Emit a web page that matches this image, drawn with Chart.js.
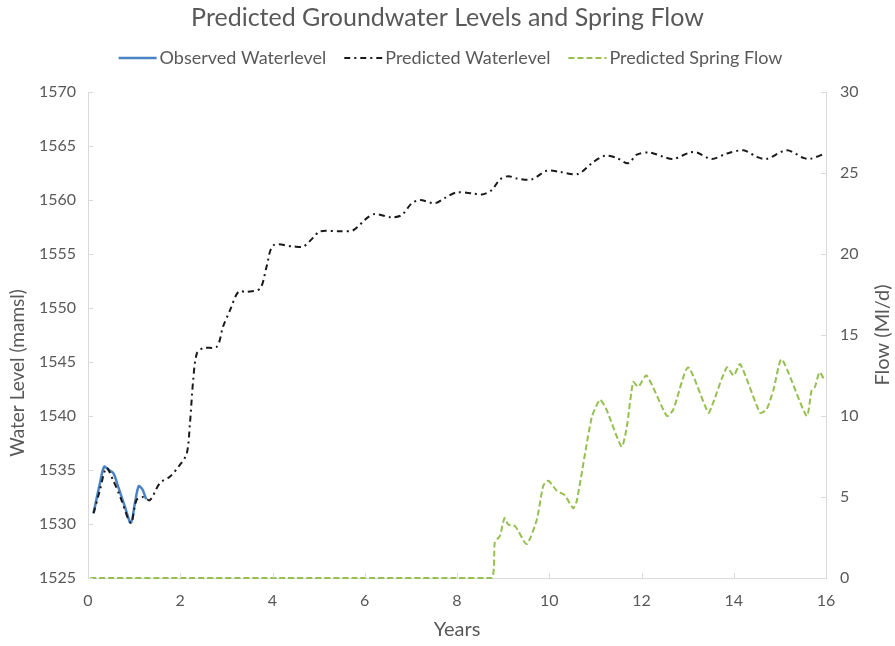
<!DOCTYPE html>
<html>
<head>
<meta charset="utf-8">
<script src="https://cdn.jsdelivr.net/npm/chart.js@4"></script>
<style>
  html, body { margin: 0; padding: 0; background: #fff; }
  #wrap { width: 895px; height: 646px; }
</style>
</head>
<body>
<div id="wrap"><canvas id="gwChart"></canvas></div>
<script>
// Observed waterlevel (years, mamsl)
const obsYears = [0.12, 0.25, 0.35, 0.45, 0.55, 0.65, 0.8, 0.93, 1.02, 1.1, 1.18, 1.26];
const obsLevel = [1531.0, 1533.6, 1535.3, 1535.0, 1534.7, 1533.5, 1531.6, 1530.1, 1532.0, 1533.5, 1533.2, 1532.3];

// Predicted waterlevel (years, mamsl)
const predYears = [0.12, 0.25, 0.4, 0.55, 0.7, 0.93, 1.05, 1.2, 1.34, 1.56, 1.78, 1.98, 2.14, 2.21, 2.28, 2.36, 2.5,
  2.79, 2.93, 3.08, 3.26, 3.44, 3.73, 3.87, 4.02, 4.45, 4.67, 4.88, 5.03, 5.46, 5.75, 6.04, 6.22, 6.58, 6.8, 7.02,
  7.2, 7.52, 7.74, 7.99, 8.35, 8.53, 8.75, 8.93, 9.11, 9.29, 9.62, 9.94, 10.23, 10.62, 10.95, 11.21, 11.46, 11.71,
  11.9, 12.18, 12.47, 12.69, 13.05, 13.2, 13.52, 13.85, 14.21, 14.5, 14.71, 15.15, 15.51, 15.65, 15.98];
const predLevel = [1531.0, 1533.0, 1535.2, 1534.0, 1532.5, 1530.1, 1532.2, 1532.5, 1532.2, 1533.8, 1534.4, 1535.4, 1536.5, 1539.3, 1543.3, 1545.8, 1546.3,
  1546.4, 1548.3, 1549.8, 1551.5, 1551.5, 1551.8, 1553.8, 1555.8, 1555.7, 1555.7, 1556.5, 1557.1, 1557.1, 1557.2, 1558.3, 1558.7, 1558.4, 1558.6, 1559.7,
  1560.0, 1559.7, 1560.2, 1560.7, 1560.6, 1560.5, 1560.9, 1561.9, 1562.2, 1562.0, 1561.9, 1562.7, 1562.6, 1562.4, 1563.5, 1564.1, 1563.9, 1563.4,
  1564.2, 1564.4, 1564.0, 1563.8, 1564.4, 1564.4, 1563.8, 1564.3, 1564.6, 1564.0, 1563.8, 1564.6, 1563.9, 1563.8, 1564.3];

// Predicted spring flow (years, Ml/d)
const flowYears = [0.05, 2, 4, 6, 8, 8.75, 8.82, 8.93, 9.03, 9.11, 9.26, 9.51, 9.73, 9.87, 9.98, 10.16, 10.34, 10.52, 10.6,
  10.92, 11.1, 11.24, 11.57, 11.68, 11.82, 11.93, 12.11, 12.55, 12.69, 13.01, 13.45, 13.55, 13.85, 14.0, 14.14, 14.57,
  14.71, 14.86, 15.04, 15.58, 15.69, 15.76, 15.86, 15.97];
const flowValues = [0, 0, 0, 0, 0, 0, 2.2, 2.6, 3.7, 3.3, 3.2, 2.1, 3.6, 5.7, 6.0, 5.4, 5.1, 4.3, 4.8,
  9.9, 11.0, 10.4, 8.1, 9.3, 12.1, 11.8, 12.5, 10.0, 10.4, 13.0, 10.2, 10.8, 13.0, 12.5, 13.2, 10.2,
  10.4, 11.6, 13.5, 10.0, 11.6, 11.8, 12.7, 12.2];

const xTicks = [0, 2, 4, 6, 8, 10, 12, 14, 16];

const toXY = (xs, ys) => xs.map((x, i) => ({ x: x, y: ys[i] }));

const grey = '#595959';
const axisLine = '#d9d9d9';
const fontFamily = 'Lato, sans-serif';

// extra room under the legend
const legendSpace = {
  id: 'legendSpace',
  beforeLayout(chart) {
    const lg = chart.legend;
    if (lg && !lg._padded) {
      const fit = lg.fit;
      lg.fit = function () { fit.call(this); this.height += 15; };
      lg._padded = true;
    }
  }
};

// small inward tick marks, legend line samples and the axis titles
const extras = {
  id: 'extras',
  afterDraw(chart) {
    const ctx = chart.ctx;
    const x = chart.scales.x, y = chart.scales.y, y1 = chart.scales.y1;
    const area = chart.chartArea;
    ctx.save();
    ctx.strokeStyle = axisLine;
    ctx.lineWidth = 1;
    ctx.beginPath();
    xTicks.forEach(v => {
      const px = Math.round(x.getPixelForValue(v)) + 0.5;
      ctx.moveTo(px, area.bottom);
      ctx.lineTo(px, area.bottom - 5);
    });
    y.ticks.forEach(t => {
      const py = Math.round(y.getPixelForValue(t.value)) + 0.5;
      ctx.moveTo(area.left, py);
      ctx.lineTo(area.left + 5, py);
    });
    y1.ticks.forEach(t => {
      const py = Math.round(y1.getPixelForValue(t.value)) + 0.5;
      ctx.moveTo(area.right, py);
      ctx.lineTo(area.right - 5, py);
    });
    ctx.stroke();

    // legend samples
    const boxes = chart.legend.legendHitBoxes || [];
    chart.legend.legendItems.forEach((item, i) => {
      const b = boxes[i];
      if (!b) return;
      const ds = chart.data.datasets[item.datasetIndex];
      const ly = b.top + b.height / 2;
      ctx.beginPath();
      ctx.strokeStyle = ds.borderColor;
      ctx.lineWidth = ds.borderWidth;
      ctx.setLineDash(ds.borderDash || []);
      ctx.moveTo(b.left + 6, ly);
      ctx.lineTo(b.left + 44, ly);
      ctx.stroke();
    });
    ctx.setLineDash([]);

    // axis titles, both reading bottom to top
    ctx.fillStyle = grey;
    ctx.textAlign = 'center';
    ctx.textBaseline = 'middle';
    ctx.font = '19px ' + fontFamily;
    ctx.save();
    ctx.translate(18, 373);
    ctx.rotate(-Math.PI / 2);
    ctx.fillText('Water Level (mamsl)', 0, 0);
    ctx.restore();
    ctx.font = '20px ' + fontFamily;
    ctx.translate(883, (area.top + area.bottom) / 2);
    ctx.rotate(-Math.PI / 2);
    ctx.fillText('Flow (Ml/d)', 0, 0);
    ctx.restore();
  }
};

const ctx = document.getElementById('gwChart').getContext('2d');
new Chart(ctx, {
  type: 'line',
  data: {
    datasets: [
      {
        label: 'Observed Waterlevel',
        data: toXY(obsYears, obsLevel),
        borderColor: '#4a84c4',
        backgroundColor: '#4a84c4',
        borderWidth: 2.5,
        pointRadius: 0,
        tension: 0.3,
        order: 2,
        yAxisID: 'y'
      },
      {
        label: 'Predicted Waterlevel',
        data: toXY(predYears, predLevel),
        borderColor: '#1a1a1a',
        backgroundColor: '#1a1a1a',
        borderWidth: 2,
        borderDash: [6, 4, 2, 4],
        pointRadius: 0,
        tension: 0.3,
        order: 1,
        yAxisID: 'y'
      },
      {
        label: 'Predicted Spring Flow',
        data: toXY(flowYears, flowValues),
        borderColor: '#95bf4f',
        backgroundColor: '#95bf4f',
        borderWidth: 2,
        borderDash: [6, 3],
        pointRadius: 0,
        tension: 0.2,
        clip: false,
        order: 3,
        yAxisID: 'y1'
      }
    ]
  },
  options: {
    responsive: true,
    maintainAspectRatio: false,
    animation: false,
    layout: { padding: 0 },
    plugins: {
      title: {
        display: true,
        text: 'Predicted Groundwater Levels and Spring Flow',
        color: grey,
        font: { family: fontFamily, size: 25, weight: 'normal' },
        padding: { top: 3, bottom: 4 }
      },
      legend: {
        display: true,
        labels: {
          color: grey,
          font: { family: fontFamily, size: 18 },
          boxWidth: 38,
          boxHeight: 10,
          padding: 12,
          sort: (a, b) => a.datasetIndex - b.datasetIndex,
          generateLabels: chart => Chart.defaults.plugins.legend.labels.generateLabels(chart).map(l => {
            l.fillStyle = 'rgba(0,0,0,0)';
            l.strokeStyle = 'rgba(0,0,0,0)';
            l.lineWidth = 0;
            return l;
          })
        }
      },
      tooltip: { enabled: false }
    },
    scales: {
      x: {
        type: 'linear',
        min: 0,
        max: 16,
        afterBuildTicks: s => { s.ticks = xTicks.map(v => ({ value: v })); },
        afterFit: s => { s.height = 68; },
        grid: { display: true, drawOnChartArea: false, drawTicks: false },
        border: { display: true, color: axisLine },
        ticks: { color: grey, font: { family: fontFamily, size: 16 }, padding: 13 },
        title: { display: true, text: 'Years', color: grey, font: { family: fontFamily, size: 20 }, padding: { top: 1 } }
      },
      y: {
        position: 'left',
        min: 1525,
        max: 1570,
        afterFit: s => { s.width = 88; },
        grid: { display: true, drawOnChartArea: false, drawTicks: false },
        border: { display: true, color: axisLine },
        ticks: { stepSize: 5, color: grey, font: { family: fontFamily, size: 16 }, padding: 12, callback: v => String(v) }
      },
      y1: {
        position: 'right',
        min: 0,
        max: 30,
        afterFit: s => { s.width = 69; },
        grid: { display: true, drawOnChartArea: false, drawTicks: false },
        border: { display: true, color: axisLine },
        ticks: { stepSize: 5, color: grey, font: { family: fontFamily, size: 16 }, padding: 14, callback: v => String(v) }
      }
    }
  },
  plugins: [legendSpace, extras]
});
</script>
</body>
</html>
